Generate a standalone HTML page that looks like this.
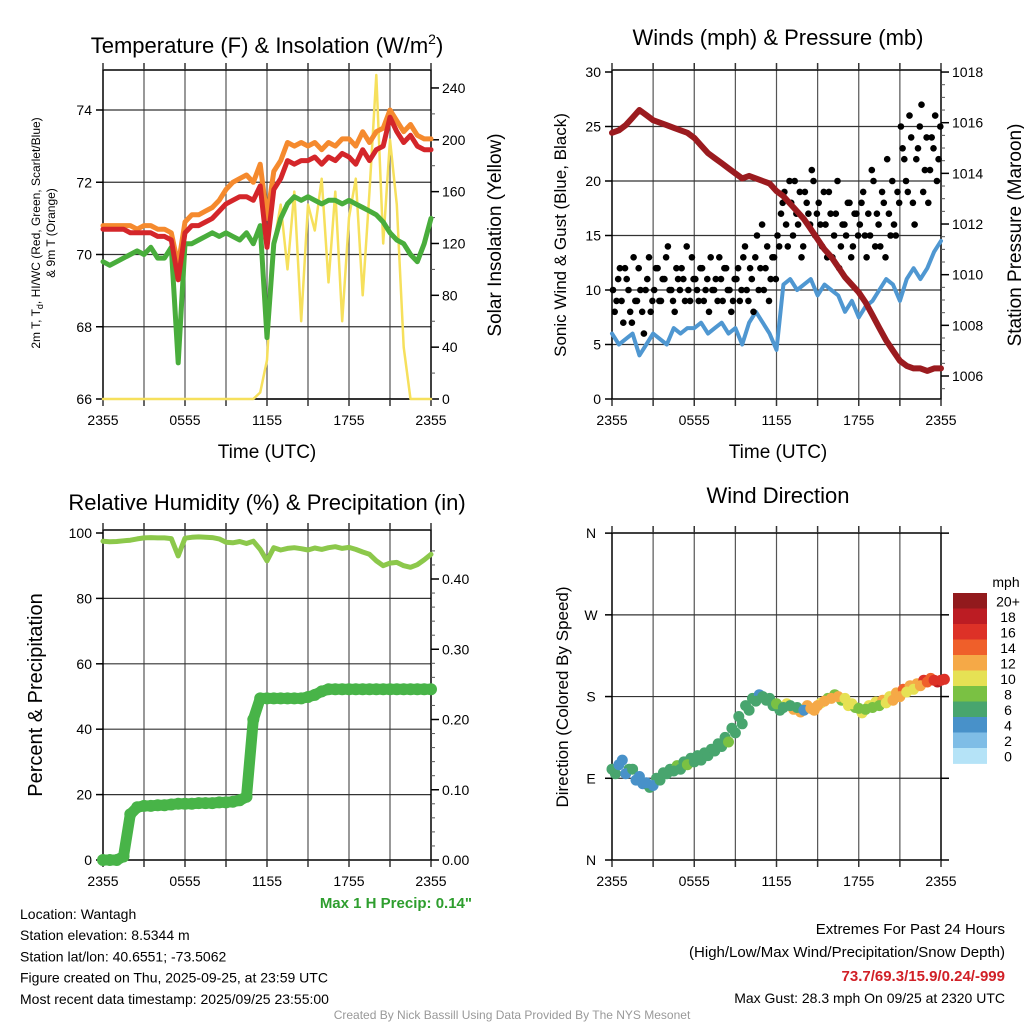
<!DOCTYPE html>
<html><head><meta charset="utf-8"><style>
html,body{margin:0;padding:0;background:#fff;}
svg{display:block;font-family:"Liberation Sans",sans-serif;}
</style></head><body>
<svg id="chart" width="1024" height="1024" viewBox="0 0 1024 1024" xmlns="http://www.w3.org/2000/svg">
<rect width="1024" height="1024" fill="#fff"/>
</svg>
<script>
// ---------- data ----------
const xTickLabels = ["2355","0555","1155","1755","2355"];
const tempRed = [70.7,70.7,70.7,70.7,70.6,70.6,70.6,70.6,70.5,70.5,70.4,69.3,70.6,70.8,70.8,70.9,71.0,71.2,71.4,71.5,71.6,71.6,71.5,71.9,70.2,71.8,72.1,72.6,72.5,72.6,72.6,72.7,72.5,72.7,72.6,72.8,72.7,72.5,72.9,72.6,72.9,73.0,73.8,73.4,73.1,73.3,73.0,72.9,72.9];
const tempOrange = [70.8,70.8,70.8,70.8,70.8,70.7,70.8,70.8,70.7,70.7,70.6,69.7,70.9,71.1,71.1,71.2,71.3,71.5,71.8,72.0,72.1,72.2,72.0,72.5,71.0,72.3,72.6,73.1,73.0,73.1,73.0,73.1,72.9,73.1,73.0,73.2,73.2,73.0,73.4,73.1,73.4,73.5,74.0,73.7,73.4,73.6,73.3,73.2,73.2];
const dewGreen = [69.8,69.7,69.8,69.9,70.0,70.1,70.0,70.2,69.9,69.9,70.2,67.0,70.3,70.3,70.4,70.5,70.6,70.5,70.6,70.5,70.4,70.6,70.3,70.8,67.7,70.3,71.0,71.4,71.6,71.5,71.6,71.5,71.4,71.5,71.5,71.4,71.5,71.4,71.3,71.2,71.1,70.9,70.6,70.4,70.3,70.0,69.8,70.3,71.0];
const solar = [0,0,0,0,0,0,0,0,0,0,0,0,0,0,0,0,0,0,0,0,0,0,0,5,30,120,150,100,160,60,150,130,170,90,160,60,140,170,80,160,250,120,200,150,40,0,0,0,0];
const windSpeed = [6,5,5.5,6,4,5,6,5.5,5,6.5,6,6.5,6.5,7,6,6.5,7,6,6.5,5,7,8,7,6,4.5,10.5,11,10,10.5,11,9.5,10.5,10,9.5,8,9,7.5,8.5,9,10,11,10.5,9,11,12,11,12,13.5,14.5];
const gusts = [10,9,12,7,11,8,13,9,10,6,11,8, 10,12,9,11,14,10,8,11,12,9,10,13, 11,9,12,10,8,10,11,13,9,12,10,9, 11,9,13,10,12,8,15,12,10,14,11,13, 15,17,19,14,18,20,16,13,19,17,21,15, 18,14,16,19,13,17,12,16,15,18,14,17, 16,19,13,15,20,17,14,18,22,15,16,19, 25,22,19,24,16,23,27,21,18,24,26,22];
const gustsB = [8,11,9,12,10,7,9,12,8,10,13,9, 12,9,11,13,10,9,12,10,11,14,9,11, 10,12,9,11,13,10,9,11,12,10,8,11, 12,10,14,9,11,13,10,16,12,9,13,11, 14,18,16,20,15,17,19,14,18,16,20,17, 16,19,13,17,15,20,14,16,18,13,17,15, 18,15,17,21,14,16,19,13,17,20,15,18, 23,20,26,18,22,25,19,24,21,23,20,25];
const pressure = [1015.6,1015.7,1015.9,1016.2,1016.5,1016.3,1016.1,1016.0,1015.9,1015.8,1015.7,1015.6,1015.4,1015.1,1014.8,1014.6,1014.4,1014.2,1014.0,1013.8,1013.9,1013.8,1013.7,1013.6,1013.3,1013.1,1012.8,1012.5,1012.2,1011.8,1011.4,1011.0,1010.7,1010.3,1009.9,1009.6,1009.3,1008.9,1008.4,1007.9,1007.4,1007.0,1006.6,1006.4,1006.3,1006.3,1006.2,1006.3,1006.3];
const rh = [97.5,97.3,97.4,97.6,97.8,98.2,98.5,98.6,98.5,98.5,98.3,93,98.4,98.7,98.8,98.7,98.6,98.2,97.2,97.0,97.4,96.8,97.5,95,91.5,95.5,94.8,95.3,95.5,95.2,94.8,95.4,95.0,95.5,95.8,95.3,95.6,95.0,94.2,93.5,91.5,90.0,90.8,91.0,90.0,89.5,90.3,91.8,93.5];
const precip = [0,0,0,0.005,0.065,0.075,0.077,0.077,0.078,0.078,0.079,0.08,0.08,0.08,0.081,0.081,0.081,0.082,0.082,0.083,0.085,0.09,0.2,0.23,0.23,0.23,0.23,0.23,0.23,0.23,0.232,0.235,0.24,0.243,0.243,0.243,0.243,0.243,0.243,0.243,0.243,0.243,0.243,0.243,0.243,0.243,0.243,0.243,0.243];
const windDir = [100,105,95,100,92,85,82,88,95,98,100,105,108,110,115,120,125,130,140,150,165,175,180,178,172,168,170,168,165,167,170,175,178,180,178,172,167,166,168,170,173,176,180,185,188,192,196,198,198];
const dirSpeed = [6,5,4,6,5,4,4,6,6,7,7,8,6,7,6,7,7,8,6,7,7,6,6,7,8,7,7,6,5,12,12,13,12,12,11,10,9,9,8,8,10,12,12,10,10,12,14,16,17];
const windDirB = [95,110,100,88,84,80,90,96,100,104,108,112,115,118,122,128,135,145,158,170,178,182,176,170,165,172,166,163,170,165,173,178,182,176,170,168,162,170,174,176,180,184,188,192,194,198,200,196,199];
const dirSpeedB = [6,4,7,5,4,6,6,7,6,8,6,7,6,7,6,6,7,6,7,7,6,5,7,7,6,11,12,12,13,12,10,9,8,8,10,9,10,11,10,12,11,12,14,12,13,16,15,18,17];
const barLabels = ["20+","18","16","14","12","10","8","6","4","2","0"];
const barColors = ["#921a1d","#bc1c23","#dd3127","#ef5f2a","#f5a947","#e6e154","#7ac143","#48a56e","#4891c9","#7fbde6","#b5e3f7"];

const svg = document.getElementById('chart');
const NS = 'http://www.w3.org/2000/svg';
function add(parent, tag, attrs, name, inter) {
  const el = document.createElementNS(NS, tag);
  for (const k in attrs) el.setAttribute(k, attrs[k]);
  
  
  parent.appendChild(el);
  return el;
}
function txt(parent, x, y, s, size, anchor, name, extra) {
  const t = add(parent, 'text', Object.assign({x:x, y:y, 'font-size':size, 'text-anchor':anchor||'middle', fill:'#000'}, extra||{}), name);
  t.textContent = s;
  return t;
}
function vtxt(parent, x, y, s, size, name, extra) {
  const t = add(parent, 'text', Object.assign({x:0, y:0, 'font-size':size, 'text-anchor':'middle', fill:'#000', transform:'translate('+x+','+y+') rotate(-90)'}, extra||{}), name);
  t.textContent = s;
  return t;
}

const P = {
  tl:{x0:103,x1:431,y0:70,y1:399},
  tr:{x0:612,x1:941,y0:70,y1:399},
  bl:{x0:103,x1:431,y0:530,y1:860},
  br:{x0:612,x1:941,y0:533,y1:860}
};
function xf(p, i, n) { return p.x0 + i*(p.x1-p.x0)/(n-1); }
const yT = v => 399-(v-66)*36.125;
const yS = v => 399-v*1.296;
const yW = v => 399-v*10.9;
const yP = v => 376-(v-1006)*25.33;
const yRH = v => 860-v*3.27;
const yPr = v => 860-v*702.5;
const yD = v => 860-v*0.908;

function frame(p, name, hgrid) {
  const g = add(svg, 'g', {}, name+'-axes');
  for (let k=1;k<8;k++){
    const x = p.x0 + k*(p.x1-p.x0)/8;
    add(g,'line',{x1:x,x2:x,y1:p.y0,y2:p.y1,stroke:'#555','stroke-width':1.2},name+'-vgrid');
  }
  hgrid.forEach(y=>{
    add(g,'line',{x1:p.x0,x2:p.x1,y1:y,y2:y,stroke:'#333','stroke-width':1.2},name+'-hgrid');
  });
  add(g,'rect',{x:p.x0,y:p.y0,width:p.x1-p.x0,height:p.y1-p.y0,fill:'none',stroke:'#000','stroke-width':1.5},name+'-frame');
  for (let k=0;k<=8;k++){
    const x = p.x0 + k*(p.x1-p.x0)/8;
    add(g,'line',{x1:x,x2:x,y1:p.y1,y2:p.y1+7,stroke:'#333','stroke-width':1.5},name+'-xtick');
    add(g,'line',{x1:x,x2:x,y1:p.y0,y2:p.y0-7,stroke:'#333','stroke-width':1.5},name+'-xtick-top');
  }
  xTickLabels.forEach((s,k)=>{
    txt(g, p.x0 + k*(p.x1-p.x0)/4, p.y1+26, s, 14, 'middle', name+'-xtick-label');
  });
  return g;
}
function leftTicks(g,p,vals,yf,labels,name){
  vals.forEach((v,k)=>{
    const y=yf(v);
    add(g,'line',{x1:p.x0-7,x2:p.x0,y1:y,y2:y,stroke:'#000','stroke-width':1.5},name+'-ytick');
    txt(g,p.x0-11,y+5,labels[k],14,'end',name+'-ytick-label');
  });
}
function rightTicks(g,p,vals,yf,labels,name,minor){
  vals.forEach((v,k)=>{
    const y=yf(v);
    add(g,'line',{x1:p.x1,x2:p.x1+8,y1:y,y2:y,stroke:'#000','stroke-width':1.5},name+'-rtick');
    txt(g,p.x1+11,y+5,labels[k],14,'start',name+'-rtick-label');
  });
  (minor||[]).forEach(v=>{
    const y=yf(v);
    add(g,'line',{x1:p.x1,x2:p.x1+4,y1:y,y2:y,stroke:'#555','stroke-width':1},name+'-rtick-minor');
  });
}
function line(arr, p, yf, color, w, name){
  const pts = arr.map((v,i)=>xf(p,i,arr.length).toFixed(1)+','+yf(v).toFixed(1)).join(' ');
  add(svg,'polyline',{points:pts,fill:'none',stroke:color,'stroke-width':w,'stroke-linejoin':'round','stroke-linecap':'round'},name);
}

// ---------- Panel 1 ----------
let g = frame(P.tl,'temp-panel',[66,68,70,72,74].map(yT));
leftTicks(g,P.tl,[66,68,70,72,74],yT,["66","68","70","72","74"],'temp');
rightTicks(g,P.tl,[0,40,80,120,160,200,240],yS,["0","40","80","120","160","200","240"],'solar',[20,60,100,140,180,220]);
line(solar,P.tl,yS,'#f6e05c',2.5,'solar-line');
line(tempOrange,P.tl,yT,'#f58a2e',5,'temp-9m-line');
line(dewGreen,P.tl,yT,'#49ad3c',5,'dewpoint-line');
line(tempRed,P.tl,yT,'#d4262a',5,'temp-2m-line');
txt(svg,267,53,'Temperature (F) & Insolation (W/m',22,'middle','temp-title').innerHTML='Temperature (F) &amp; Insolation (W/m<tspan dy="-9" font-size="14">2</tspan><tspan dy="9">)</tspan>';
vtxt(svg,40,233,'2m T, Td, HI/WC (Red, Green, Scarlet/Blue)',12,'temp-ylabel-1').innerHTML='2m T, T<tspan dy="3" font-size="9">d</tspan><tspan dy="-3">, HI/WC (Red, Green, Scarlet/Blue)</tspan>';
vtxt(svg,55,233,'& 9m T (Orange)',12,'temp-ylabel-2');
vtxt(svg,501,235,'Solar Insolation (Yellow)',19,'solar-ylabel');
txt(svg,267,458,'Time (UTC)',19,'middle','temp-xlabel');

// ---------- Panel 2 ----------
g = frame(P.tr,'wind-panel',[5,10,15,20,25].map(yW));
leftTicks(g,P.tr,[0,5,10,15,20,25,30],yW,["0","5","10","15","20","25","30"],'wind');
rightTicks(g,P.tr,[1006,1008,1010,1012,1014,1016,1018],yP,["1006","1008","1010","1012","1014","1016","1018"],'pressure',[1005.5,1006.5,1007,1007.5,1008.5,1009,1009.5,1010.5,1011,1011.5,1012.5,1013,1013.5,1014.5,1015,1015.5,1016.5,1017,1017.5]);
line(windSpeed,P.tr,yW,'#4f97d1',4,'sonic-wind-line');
gusts.forEach((v,j)=>{
  add(svg,'circle',{cx:(612+(j+0.3)*329/96).toFixed(1),cy:yW(v).toFixed(1),r:3.3,fill:'#000'},'gust-point');
});
gustsB.forEach((v,j)=>{
  add(svg,'circle',{cx:(612+(j+0.8)*329/96).toFixed(1),cy:yW(v).toFixed(1),r:3.3,fill:'#000'},'gust-point');
});
line(pressure,P.tr,yP,'#9b1b1f',6,'pressure-line');
txt(svg,778,45,'Winds (mph) & Pressure (mb)',22,'middle','wind-title');
vtxt(svg,566,235,'Sonic Wind & Gust (Blue, Black)',17,'wind-ylabel');
vtxt(svg,1021,235,'Station Pressure (Maroon)',19,'pressure-ylabel');
txt(svg,778,458,'Time (UTC)',19,'middle','wind-xlabel');

// ---------- Panel 3 ----------
g = frame(P.bl,'rh-panel',[20,40,60,80].map(yRH));
leftTicks(g,P.bl,[0,20,40,60,80,100],yRH,["0","20","40","60","80","100"],'rh');
rightTicks(g,P.bl,[0,0.1,0.2,0.3,0.4],yPr,["0.00","0.10","0.20","0.30","0.40"],'precip',[0.02,0.04,0.06,0.08,0.12,0.14,0.16,0.18,0.22,0.24,0.26,0.28,0.32,0.34,0.36,0.38,0.42,0.44]);
line(rh,P.bl,yRH,'#8cc84b',5,'rh-line');
line(precip,P.bl,yPr,'#48b448',11,'precip-line');
precip.forEach((v,i)=>{
  add(svg,'circle',{cx:xf(P.bl,i,precip.length).toFixed(1),cy:yPr(v).toFixed(1),r:6,fill:'#48b448'},'precip-point');
});
txt(svg,267,510,'Relative Humidity (%) & Precipitation (in)',22,'middle','rh-title');
vtxt(svg,42,695,'Percent & Precipitation',20,'rh-ylabel');
txt(svg,472,908,'Max 1 H Precip: 0.14"',15,'end','max-precip-note',{fill:'#2e9e2e','font-weight':'bold'});

// ---------- Panel 4 ----------
g = frame(P.br,'dir-panel',[90,180,270].map(yD));
[["N",360],["W",270],["S",180],["E",90],["N",0]].forEach(a=>{
  const y=yD(a[1]);
  add(g,'line',{x1:P.br.x0-7,x2:P.br.x0,y1:y,y2:y,stroke:'#000','stroke-width':1.5},'dir-ytick');
  add(g,'line',{x1:P.br.x1,x2:P.br.x1+8,y1:y,y2:y,stroke:'#000','stroke-width':1.5},'dir-rtick');
  txt(g,591,y+5,a[0],14,'middle','dir-ytick-label');
});
windDirB.forEach((v,i)=>{
  const b = Math.min(10, Math.floor(dirSpeedB[i]/2));
  add(svg,'circle',{cx:(xf(P.br,i,windDirB.length)+3.4).toFixed(1),cy:yD(v).toFixed(1),r:5.5,fill:barColors[10-b]},'wind-dir-point');
});
windDir.forEach((v,i)=>{
  const b = Math.min(10, Math.floor(dirSpeed[i]/2));
  add(svg,'circle',{cx:xf(P.br,i,windDir.length).toFixed(1),cy:yD(v).toFixed(1),r:5.5,fill:barColors[10-b]},'wind-dir-point');
});
txt(svg,778,503,'Wind Direction',22,'middle','dir-title');
vtxt(svg,568,697,'Direction (Colored By Speed)',17,'dir-ylabel');
txt(svg,1006,587,'mph',14,'middle','colorbar-unit');
barColors.forEach((c,k)=>{
  add(svg,'rect',{x:953,y:(593+k*15.5).toFixed(1),width:34,height:15.9,fill:c},'colorbar-box');
  txt(svg,1008,(593+k*15.5+13.5).toFixed(1),barLabels[k],14,'middle','colorbar-label');
});

// ---------- footer ----------
["Location: Wantagh","Station elevation: 8.5344 m","Station lat/lon: 40.6551; -73.5062","Figure created on Thu, 2025-09-25, at 23:59 UTC","Most recent data timestamp: 2025/09/25 23:55:00"].forEach((s,k)=>{
  txt(svg,20,919+k*21.2,s,14,'start','station-info-line');
});
txt(svg,1005,934,'Extremes For Past 24 Hours',15,'end','extremes-title');
txt(svg,1005,957,'(High/Low/Max Wind/Precipitation/Snow Depth)',15,'end','extremes-legend');
txt(svg,1005,981,'73.7/69.3/15.9/0.24/-999',15,'end','extremes-values',{fill:'#d12027','font-weight':'bold'});
txt(svg,1005,1003,'Max Gust: 28.3 mph On 09/25 at 2320 UTC',14,'end','max-gust-note');
txt(svg,512,1019,'Created By Nick Bassill Using Data Provided By The NYS Mesonet',12,'middle','credit-line',{fill:'#999'});
</script>
</body></html>
